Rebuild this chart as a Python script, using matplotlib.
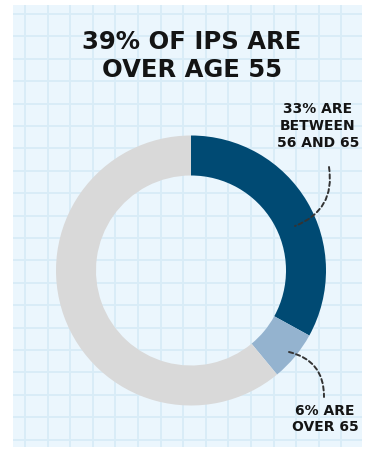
import matplotlib.pyplot as plt
from matplotlib.patches import Rectangle

# 数据
labels = ["56-65", "over 65", "55 and under"]
shares = [33, 6, 61]
colors = ["#004a73", "#94b3cf", "#d9d9d9"]

title_lines = "39% OF IPS ARE\nOVER AGE 55"
label_mid = "33% ARE\nBETWEEN\n56 AND 65"
label_old = "6% ARE\nOVER 65"

W, H = 365, 449
fig = plt.figure(figsize=(W / 100, H / 100), dpi=100)
ax = fig.add_axes([0, 0, 1, 1])

# 背景方格纸
ax.add_patch(Rectangle((13, 2), 349, 442, facecolor="#ebf6fd", edgecolor="none", zorder=0))
xs = [25 + 22.6 * i for i in range(15)]
ys = [H - (14 + 22.4 * i) for i in range(20)]
ax.vlines([x for x in xs if x < 362], 2, 444, color="#d8ecf7", lw=1.3, zorder=1)
ax.hlines([y for y in ys if y > 2], 13, 362, color="#d8ecf7", lw=1.3, zorder=1)

# 环形图
cx, cy = 191, H - 270.5
ax.pie(shares, colors=colors, startangle=90, counterclock=False,
       center=(cx, cy), radius=135,
       wedgeprops=dict(width=40, edgecolor="none"), frame=True)

ax.set_xlim(0, W)
ax.set_ylim(0, H)
ax.axis("off")

dark = "#141414"
ax.text(192, H - 56, title_lines, ha="center", va="center", fontsize=17.5,
        fontweight="heavy", color=dark, linespacing=1.2)
ax.text(318, H - 126, label_mid, ha="center", va="center", fontsize=10,
        fontweight="heavy", color=dark, linespacing=1.25)
ax.text(325, H - 419, label_old, ha="center", va="center", fontsize=10,
        fontweight="heavy", color=dark, linespacing=1.25)

# 虚线引导线
dash = dict(arrowstyle="-", color="#333333", lw=1.4, linestyle=(0, (2.2, 1.6)),
            shrinkA=0, shrinkB=0)
ax.annotate("", xy=(295, H - 226), xytext=(329, H - 167),
            arrowprops=dict(connectionstyle="arc3,rad=-0.4", **dash))
ax.annotate("", xy=(324, H - 397), xytext=(289, H - 352),
            arrowprops=dict(connectionstyle="arc3,rad=-0.4", **dash))

fig.savefig("out.png", dpi=100, facecolor="white")
